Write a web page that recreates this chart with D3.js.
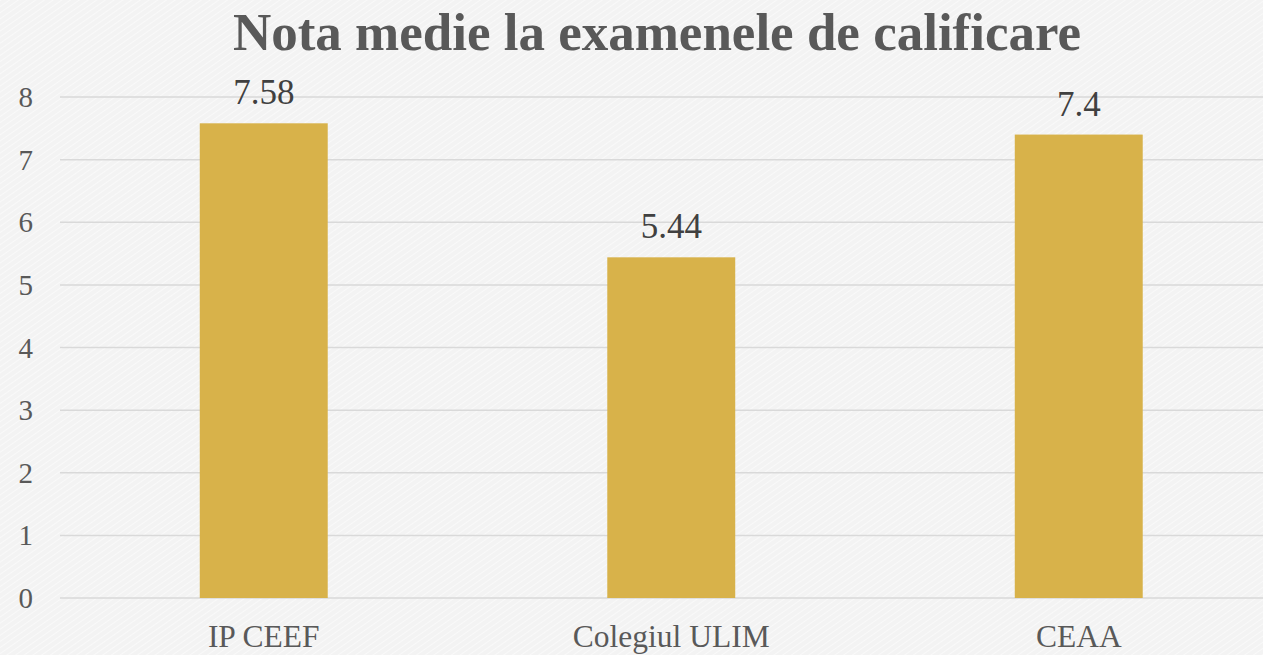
<!DOCTYPE html>
<html>
<head>
<meta charset="utf-8">
<script src="https://cdn.jsdelivr.net/npm/d3@7"></script>
<style>
  body { margin: 0; background: #f3f3f3; }
  svg { display: block; }
</style>
</head>
<body>
<svg id="chart"></svg>
<script>
var width = 1263,
    height = 655,
    font = "'Liberation Serif', 'Times New Roman', serif";

// chart data
var categories = ["IP CEEF", "Colegiul ULIM", "CEAA"];
var values = [7.58, 5.44, 7.4];
var tickValues = [0, 1, 2, 3, 4, 5, 6, 7, 8];

var svg = d3.select('#chart')
  .attr('width', width)
  .attr('height', height);

// textured background
var defs = svg.append('defs');
var pat = defs.append('pattern')
  .attr('id', 'paper')
  .attr('width', 5)
  .attr('height', 5)
  .attr('patternUnits', 'userSpaceOnUse')
  .attr('patternTransform', 'rotate(-35)');
pat.append('rect').attr('width', 5).attr('height', 5).attr('fill', '#f3f3f3');
pat.append('line')
  .attr('x1', 0).attr('y1', 0).attr('x2', 5).attr('y2', 0)
  .attr('stroke', '#fbfbfb').attr('stroke-width', 1.5);

svg.append('rect')
  .attr('width', width)
  .attr('height', height)
  .attr('fill', 'url(#paper)');

var x = d3.scaleBand()
  .domain(categories)
  .range([60, 1282.5])
  .paddingInner(0.686)
  .paddingOuter(0.343);

var y = d3.scaleLinear()
  .domain([0, 8])
  .range([598, 97]);

// gridlines
svg.append('g')
  .selectAll('line')
  .data(tickValues)
  .join('line')
  .attr('x1', 60)
  .attr('x2', width)
  .attr('y1', d => y(d))
  .attr('y2', d => y(d))
  .attr('stroke', '#d9d9d9')
  .attr('stroke-width', 1.5);

// y tick labels
svg.append('g')
  .selectAll('text')
  .data(tickValues)
  .join('text')
  .attr('x', 33)
  .attr('y', d => y(d) + 10)
  .attr('text-anchor', 'end')
  .attr('font-family', font)
  .attr('font-size', 29)
  .attr('fill', '#595959')
  .text(d => d);

// bars
svg.append('g')
  .selectAll('rect')
  .data(values)
  .join('rect')
  .attr('x', (d, i) => x(categories[i]))
  .attr('width', x.bandwidth())
  .attr('y', d => y(d))
  .attr('height', d => y(0) - y(d))
  .attr('fill', '#d8b24a');

// data labels
svg.append('g')
  .selectAll('text')
  .data(values)
  .join('text')
  .attr('x', (d, i) => x(categories[i]) + x.bandwidth() / 2)
  .attr('y', d => y(d) - 19)
  .attr('text-anchor', 'middle')
  .attr('font-family', font)
  .attr('font-size', 35)
  .attr('fill', '#404040')
  .text(d => d);

// category labels
svg.append('g')
  .selectAll('text')
  .data(categories)
  .join('text')
  .attr('x', d => x(d) + x.bandwidth() / 2)
  .attr('y', 647)
  .attr('text-anchor', 'middle')
  .attr('font-family', font)
  .attr('font-size', 31.5)
  .attr('fill', '#595959')
  .text(d => d);

// title
svg.append('text')
  .attr('x', 657)
  .attr('y', 50)
  .attr('text-anchor', 'middle')
  .attr('font-family', font)
  .attr('font-size', 53)
  .attr('font-weight', 'bold')
  .attr('fill', '#595959')
  .text('Nota medie la examenele de calificare');
</script>
</body>
</html>
